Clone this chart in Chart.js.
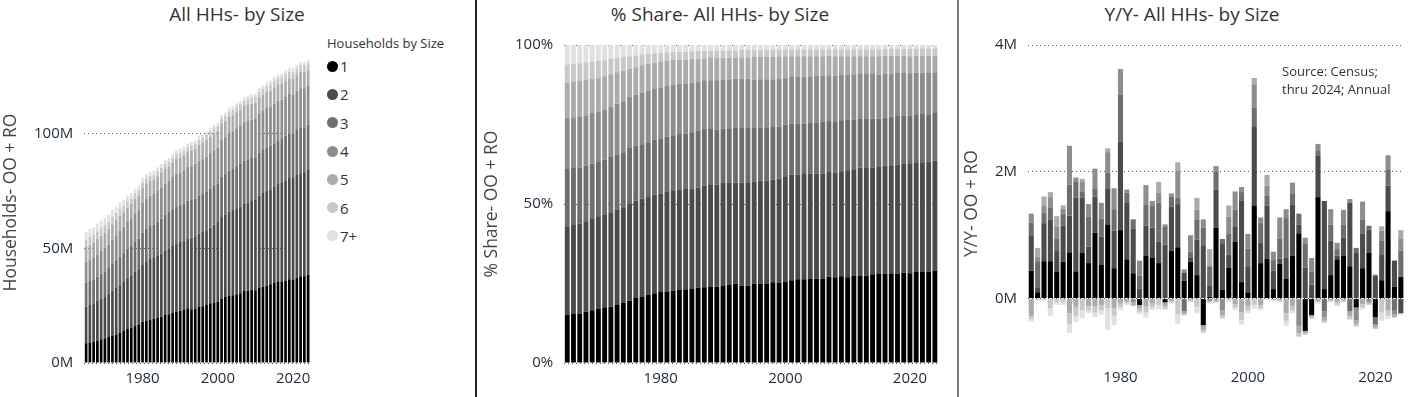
<!DOCTYPE html>
<html>
<head>
<meta charset="utf-8">
<title>Households by Size</title>
<script src="https://cdn.jsdelivr.net/npm/chart.js@4.4.0/dist/chart.umd.min.js"></script>
<style>
    body { margin: 0; width: 1418px; height: 397px; position: relative; overflow: hidden; background: #fff;
           font-family: "Segoe UI", "Open Sans", sans-serif; }
    canvas { position: absolute; top: 0; }
    .ttl { position: absolute; top: 2px; line-height: 24px; font-size: 19px; color: #333; white-space: nowrap;
           transform: translateX(-50%); }
    .rule { position: absolute; top: 0; height: 397px; }
    #legend { position: absolute; left: 327px; top: 35px; color: #333; }
    #legend .head { font-size: 13px; line-height: 16px; height: 17px; white-space: nowrap; }
    #legend .item { height: 28.3px; display: flex; align-items: center; font-size: 15px; }
    #legend .dot { width: 11px; height: 11px; border-radius: 50%; margin-right: 2px; }
    #source { position: absolute; left: 1282px; top: 62px; font-size: 13px; line-height: 18px; color: #333; }
</style>
</head>
<body>

<div class="ttl" style="left:237px">All HHs- by Size</div>
<div class="ttl" style="left:720px">% Share- All HHs- by Size</div>
<div class="ttl" style="left:1192px">Y/Y- All HHs- by Size</div>

<div class="rule" style="left:475px;width:2px;background:#222"></div>
<div class="rule" style="left:957px;width:2px;background:#7a7a7a"></div>

<canvas id="chart" width="320" height="397" style="left:0px"></canvas>
<canvas id="chart2" width="478" height="397" style="left:478px"></canvas>
<canvas id="chart3" width="458" height="397" style="left:960px"></canvas>

<div id="legend"></div>
<div id="source">Source: Census;<br>thru 2024; Annual</div>

<script>
// categories
var years = [1965, 1966, 1967, 1968, 1969, 1970, 1971, 1972, 1973, 1974,
    1975, 1976, 1977, 1978, 1979, 1980, 1981, 1982, 1983, 1984,
    1985, 1986, 1987, 1988, 1989, 1990, 1991, 1992, 1993, 1994,
    1995, 1996, 1997, 1998, 1999, 2000, 2001, 2002, 2003, 2004,
    2005, 2006, 2007, 2008, 2009, 2010, 2011, 2012, 2013, 2014,
    2015, 2016, 2017, 2018, 2019, 2020, 2021, 2022, 2023, 2024];
var yoyYears = [1966, 1967, 1968, 1969, 1970, 1971, 1972, 1973, 1974,
    1975, 1976, 1977, 1978, 1979, 1980, 1981, 1982, 1983, 1984,
    1985, 1986, 1987, 1988, 1989, 1990, 1991, 1992, 1993, 1994,
    1995, 1996, 1997, 1998, 1999, 2000, 2001, 2002, 2003, 2004,
    2005, 2006, 2007, 2008, 2009, 2010, 2011, 2012, 2013, 2014,
    2015, 2016, 2017, 2018, 2019, 2020, 2021, 2022, 2023, 2024];
var sizeLabels = ['1', '2', '3', '4', '5', '6', '7+'];
var sizeColors = ['#000000', '#4b4b4b', '#6e6e6e', '#8d8d8d', '#ababab', '#c8c8c8', '#e4e0e1'];

// all households, millions
var totalHH = [57.4, 58.4, 59.2, 60.8, 62.2, 63.4, 64.8, 66.7, 68.3, 69.9,
    71.1, 72.9, 74.1, 76.0, 77.3, 80.8, 82.4, 83.5, 83.9, 85.4,
    86.8, 88.5, 89.5, 91.1, 92.8, 93.3, 94.3, 95.7, 96.4, 97.1,
    99.0, 99.6, 101.0, 102.5, 103.9, 104.7, 108.2, 109.3, 111.3, 112.0,
    113.3, 114.4, 116.0, 116.8, 117.2, 117.5, 119.9, 121.1, 122.5, 123.2,
    124.6, 125.8, 126.2, 127.6, 128.6, 128.5, 129.9, 131.2, 131.4, 132.2];

// % share by household size
var share1 = [15.1, 15.4, 15.6, 16.1, 16.6, 17.0, 17.5, 17.7, 18.2, 19.0,
    19.6, 20.6, 20.9, 21.4, 21.9, 22.3, 22.5, 22.7, 23.0, 23.2,
    23.3, 23.7, 23.8, 23.9, 24.0, 24.4, 24.7, 24.9, 24.3, 24.3,
    24.9, 24.9, 25.0, 25.4, 25.2, 25.6, 26.0, 26.3, 26.3, 26.4,
    26.5, 26.6, 27.1, 27.0, 27.3, 27.0, 27.5, 27.5, 27.4, 27.9,
    28.0, 28.1, 28.0, 28.1, 28.4, 28.2, 28.6, 28.8, 28.8, 29.1];
var share2 = [27.9, 28.0, 28.2, 28.5, 28.7, 28.9, 29.3, 29.7, 30.1, 30.0,
    30.6, 30.4, 30.8, 31.0, 31.0, 31.0, 31.3, 31.6, 31.6, 31.5,
    31.6, 31.5, 32.0, 32.1, 32.1, 32.2, 31.9, 31.9, 32.4, 32.3,
    32.1, 32.5, 32.3, 32.2, 32.8, 33.1, 33.2, 33.0, 33.1, 33.2,
    33.1, 33.0, 33.0, 32.8, 33.0, 33.6, 33.4, 34.0, 33.9, 33.6,
    33.6, 34.0, 34.2, 34.3, 34.3, 34.6, 34.5, 34.3, 34.5, 34.6];
var share3 = [18.0, 17.9, 17.7, 17.4, 17.4, 17.3, 17.1, 17.4, 17.3, 17.3,
    17.4, 17.3, 17.1, 17.0, 17.3, 17.2, 17.4, 17.3, 17.4, 17.5,
    17.7, 17.9, 17.9, 17.6, 17.3, 17.1, 17.2, 17.2, 17.2, 17.3,
    16.9, 16.6, 16.8, 16.6, 16.3, 16.2, 16.0, 16.0, 15.9, 15.9,
    16.1, 16.3, 16.0, 16.0, 16.0, 15.8, 15.6, 15.2, 15.4, 15.4,
    15.3, 15.1, 15.2, 15.3, 15.1, 15.0, 15.1, 15.2, 14.9, 14.9];
var share4 = [16.1, 16.0, 16.1, 15.9, 15.9, 15.9, 15.8, 15.8, 15.9, 16.0,
    16.2, 16.1, 16.2, 16.1, 16.0, 16.1, 15.9, 15.8, 15.8, 15.6,
    15.6, 15.4, 15.2, 15.3, 15.5, 15.3, 15.4, 15.4, 15.5, 15.5,
    15.2, 15.2, 15.1, 15.0, 15.0, 14.8, 14.7, 14.8, 14.8, 14.7,
    14.7, 14.5, 14.4, 14.6, 14.3, 14.2, 14.3, 14.2, 14.2, 14.0,
    13.8, 13.7, 13.6, 13.5, 13.4, 13.3, 13.1, 13.0, 13.0, 12.8];
var share5 = [11.0, 11.1, 11.1, 11.1, 10.8, 10.6, 10.5, 10.2, 9.9, 9.6,
    8.7, 8.6, 8.6, 8.6, 8.3, 8.3, 8.0, 7.9, 7.6, 7.6,
    7.4, 7.2, 6.9, 7.0, 7.0, 7.0, 6.8, 6.7, 6.7, 6.7,
    7.1, 7.1, 7.1, 7.1, 7.1, 6.8, 6.6, 6.4, 6.4, 6.3,
    6.1, 6.1, 6.1, 6.1, 5.9, 5.9, 5.7, 5.6, 5.6, 5.6,
    5.8, 5.7, 5.6, 5.4, 5.4, 5.4, 5.3, 5.4, 5.4, 5.2];
var share6 = [5.8, 5.7, 5.6, 5.5, 5.4, 5.3, 5.0, 4.8, 4.5, 4.3,
    4.0, 3.7, 3.4, 3.1, 2.9, 2.6, 2.6, 2.5, 2.5, 2.5,
    2.4, 2.4, 2.3, 2.3, 2.3, 2.3, 2.3, 2.2, 2.3, 2.3,
    2.2, 2.2, 2.2, 2.2, 2.1, 2.1, 2.1, 2.1, 2.1, 2.1,
    2.1, 2.1, 2.1, 2.2, 2.2, 2.2, 2.2, 2.2, 2.2, 2.2,
    2.2, 2.2, 2.2, 2.2, 2.2, 2.3, 2.2, 2.2, 2.3, 2.3];
var share7 = [6.1, 5.9, 5.7, 5.5, 5.2, 5.0, 4.8, 4.4, 4.1, 3.8,
    3.5, 3.3, 3.0, 2.8, 2.6, 2.5, 2.3, 2.2, 2.1, 2.1,
    2.0, 1.9, 1.9, 1.8, 1.8, 1.7, 1.7, 1.7, 1.6, 1.6,
    1.6, 1.5, 1.5, 1.5, 1.5, 1.4, 1.4, 1.4, 1.4, 1.4,
    1.4, 1.4, 1.3, 1.3, 1.3, 1.3, 1.3, 1.3, 1.3, 1.3,
    1.3, 1.2, 1.2, 1.2, 1.2, 1.2, 1.2, 1.1, 1.1, 1.1];

// year over year change by household size, millions (1966-2024)
var yoy1 = [0.44, 0.10, 0.59, 0.59, 0.43, 0.58, 0.73, 0.43, 0.72, 0.56,
    1.04, 0.53, 1.17, 0.48, 1.08, 0.62, 0.40, -0.10, 0.68, 0.64,
    0.56, -0.06, 0.75, 0.81, 0.28, 0.58, 0.37, -0.42, 0.03, 1.12,
    0.14, 0.49, 0.90, 0.26, 0.10, 1.47, 0.56, 0.63, 0.15, 0.55,
    0.31, 0.68, 1.03, -0.51, -0.26, 1.60, 0.15, 0.37, 0.62, 0.68,
    0.51, -0.14, 0.48, 0.72, -0.29, 0.29, 1.38, 0.19, 0.34];
var yoy2 = [0.56, 0.08, 0.60, 0.66, 0.32, 0.57, 0.58, 1.16, 0.87, 0.26,
    0.57, 0.45, 0.57, 0.59, 1.40, 0.90, 0.70, 0.16, 0.47, 0.48,
    0.34, 0.85, 0.70, 0.68, 0.13, 0.06, 0.56, 0.83, 0.18, 0.60,
    0.72, 0.20, 0.24, 1.29, 0.41, 1.25, 0.32, 0.84, 0.29, 0.08,
    0.33, 0.80, 0.14, 0.49, 0.22, 0.66, 1.39, 0.54, 0.06, 0.28,
    1.00, 0.72, 0.54, 0.37, 0.36, 0.41, 0.40, 0.41, -0.23];
var yoy3 = [0.20, 0.41, 0.17, 0.19, 0.19, 0.19, 0.49, 0.25, 0.10, 0.47,
    0.13, 0.28, 0.24, 0.34, 0.74, 0.15, 0.15, 0.20, 0.33, 0.34,
    0.61, 0.29, 0.16, 0.10, -0.20, 0.10, 0.32, 0.29, 0.30, 0.28,
    0.08, 0.34, 0.26, 0.13, 0.28, 0.29, 0.31, 0.15, 0.17, 0.32,
    0.63, 0.17, 0.17, 0.38, 0.21, 0.08, -0.20, 0.26, 0.10, 0.21,
    -0.20, 0.08, 0.23, 0.06, -0.12, 0.21, 0.26, -0.18, 0.42];
var yoy4 = [0.14, 0.07, 0.10, 0.16, 0.20, 0.08, 0.61, 0.07, 0.16, 0.20,
    0.31, 0.25, 0.33, 0.33, 0.40, 0.05, -0.06, 0.24, 0.31, 0.08,
    0.16, 0.03, 0.05, 0.42, 0.05, 0.26, 0.15, 0.13, -0.04, 0.09,
    -0.18, 0.26, 0.29, 0.08, 0.23, 0.37, 0.09, 0.16, 0.13, 0.33,
    0.14, 0.18, -0.43, 0.09, 0.21, 0.10, -0.10, 0.24, 0.10, 0.23,
    0.06, -0.20, 0.28, -0.05, 0.02, 0.16, 0.22, -0.07, 0.19];
var yoy5 = [-0.28, 0.14, 0.15, 0.08, 0.16, 0.05, -0.23, -0.13, 0.04, -0.12,
    -0.12, -0.10, 0.06, -0.15, -0.08, -0.05, -0.04, -0.06, -0.12, -0.08,
    0.17, -0.06, -0.04, 0.14, -0.04, -0.03, 0.19, -0.08, 0.27, -0.04,
    -0.08, 0.18, -0.09, -0.22, -0.12, 0.10, -0.10, 0.17, -0.02, -0.03,
    -0.23, -0.12, -0.12, -0.04, -0.03, -0.04, -0.05, -0.03, -0.06, -0.03,
    -0.08, -0.06, -0.09, -0.03, -0.05, 0.07, -0.18, -0.04, 0.13];
var yoy6 = [-0.05, -0.02, -0.02, -0.15, -0.06, -0.06, -0.18, -0.14, -0.18, -0.07,
    -0.10, -0.08, -0.15, -0.12, -0.05, -0.03, -0.02, -0.05, -0.10, -0.06,
    -0.10, -0.04, -0.02, -0.25, -0.02, -0.02, -0.13, -0.03, -0.03, -0.02,
    -0.05, -0.03, -0.05, -0.12, -0.07, -0.10, -0.05, -0.01, -0.01, -0.02,
    -0.12, -0.07, -0.05, -0.02, -0.02, -0.02, -0.03, -0.02, -0.04, -0.02,
    -0.05, -0.04, -0.05, -0.02, -0.02, -0.22, -0.09, -0.01, -0.02];
var yoy7 = [-0.03, -0.01, -0.01, -0.12, -0.04, -0.04, -0.13, -0.10, -0.13, -0.04,
    -0.07, -0.07, -0.34, -0.15, -0.05, -0.02, 0.00, -0.03, -0.08, -0.04,
    -0.07, -0.02, -0.02, -0.15, -0.01, 0.00, -0.10, -0.02, -0.01, -0.01,
    0.00, -0.02, -0.04, -0.07, -0.04, -0.06, -0.03, -0.01, 0.00, 0.00,
    -0.08, -0.04, 0.00, 0.00, -0.01, -0.02, 0.00, 0.00, -0.02, 0.00,
    0.00, 0.00, -0.03, 0.00, 0.00, -0.13, -0.05, 0.00, 0.00];

var shares = [share1, share2, share3, share4, share5, share6, share7];
var yoys = [yoy1, yoy2, yoy3, yoy4, yoy5, yoy6, yoy7];

Chart.defaults.font.family = '"Segoe UI", "Open Sans", sans-serif';
Chart.defaults.animation = false;
Chart.defaults.plugins.legend.display = false;
Chart.defaults.plugins.tooltip.enabled = false;

var tickColor = '#1f2a36';

function yearTick(value) {
    var y = this.getLabelForValue(value);
    return (+y) % 20 === 0 ? String(y) : '';
}

function xScale(pad) {
    return {
        stacked: true,
        grid: { display: false, drawTicks: false },
        border: { display: false },
        ticks: { autoSkip: false, maxRotation: 0, minRotation: 0, padding: pad,
                 color: tickColor, font: { size: 15 }, callback: yearTick }
    };
}

function yScale(title, min, max, marks, fmt) {
    return {
        stacked: true,
        min: min,
        max: max,
        afterBuildTicks: function (axis) {
            axis.ticks = marks.map(function (v) { return { value: v }; });
        },
        grid: { color: '#555', lineWidth: 1, drawTicks: false },
        border: { display: false, dash: [1, 3] },
        ticks: { padding: 11, color: tickColor, font: { size: 15 }, callback: fmt },
        title: { display: true, text: title, color: '#444', font: { size: 17.5 },
                 padding: { top: 0, bottom: 1 } }
    };
}

function makeSets(rows, barPct) {
    return sizeLabels.map(function (lab, k) {
        return {
            label: lab,
            data: rows[k],
            backgroundColor: sizeColors[k],
            borderWidth: 0,
            barPercentage: barPct,
            categoryPercentage: 1
        };
    });
}

// household counts = total x share
var levels = shares.map(function (s) {
    return s.map(function (p, i) { return totalHH[i] * p / 100; });
});

new Chart('chart', {
    type: 'bar',
    data: { labels: years, datasets: makeSets(levels, 0.72) },
    options: {
        responsive: false,
        layout: { padding: { left: 1, top: 42, right: 10, bottom: 2 } },
        scales: {
            x: xScale(7),
            y: yScale('Households- OO + RO', 0, 140, [0, 50, 100],
                function (v) { return v + 'M'; })
        }
    }
});

new Chart('chart2', {
    type: 'bar',
    data: { labels: years, datasets: makeSets(shares, 0.78) },
    options: {
        responsive: false,
        layout: { padding: { left: 4, top: 45, right: 18, bottom: 2 } },
        scales: {
            x: xScale(7),
            y: yScale('% Share- OO + RO', 0, 100, [0, 50, 100],
                function (v) { return v + '%'; })
        }
    }
});

new Chart('chart3', {
    type: 'bar',
    data: { labels: yoyYears, datasets: makeSets(yoys, 0.8) },
    options: {
        responsive: false,
        layout: { padding: { left: 2, top: 45, right: 14, bottom: 3 } },
        scales: {
            x: xScale(7),
            y: yScale('Y/Y- OO + RO', -1, 4, [0, 2, 4],
                function (v) { return v + 'M'; })
        }
    }
});

// legend
var legend = document.getElementById('legend');
var head = document.createElement('div');
head.className = 'head';
head.textContent = 'Households by Size';
legend.appendChild(head);
sizeLabels.forEach(function (lab, k) {
    var row = document.createElement('div');
    row.className = 'item';
    var dot = document.createElement('span');
    dot.className = 'dot';
    dot.style.background = sizeColors[k];
    var txt = document.createElement('span');
    txt.textContent = lab;
    row.appendChild(dot);
    row.appendChild(txt);
    legend.appendChild(row);
});
</script>
</body>
</html>
